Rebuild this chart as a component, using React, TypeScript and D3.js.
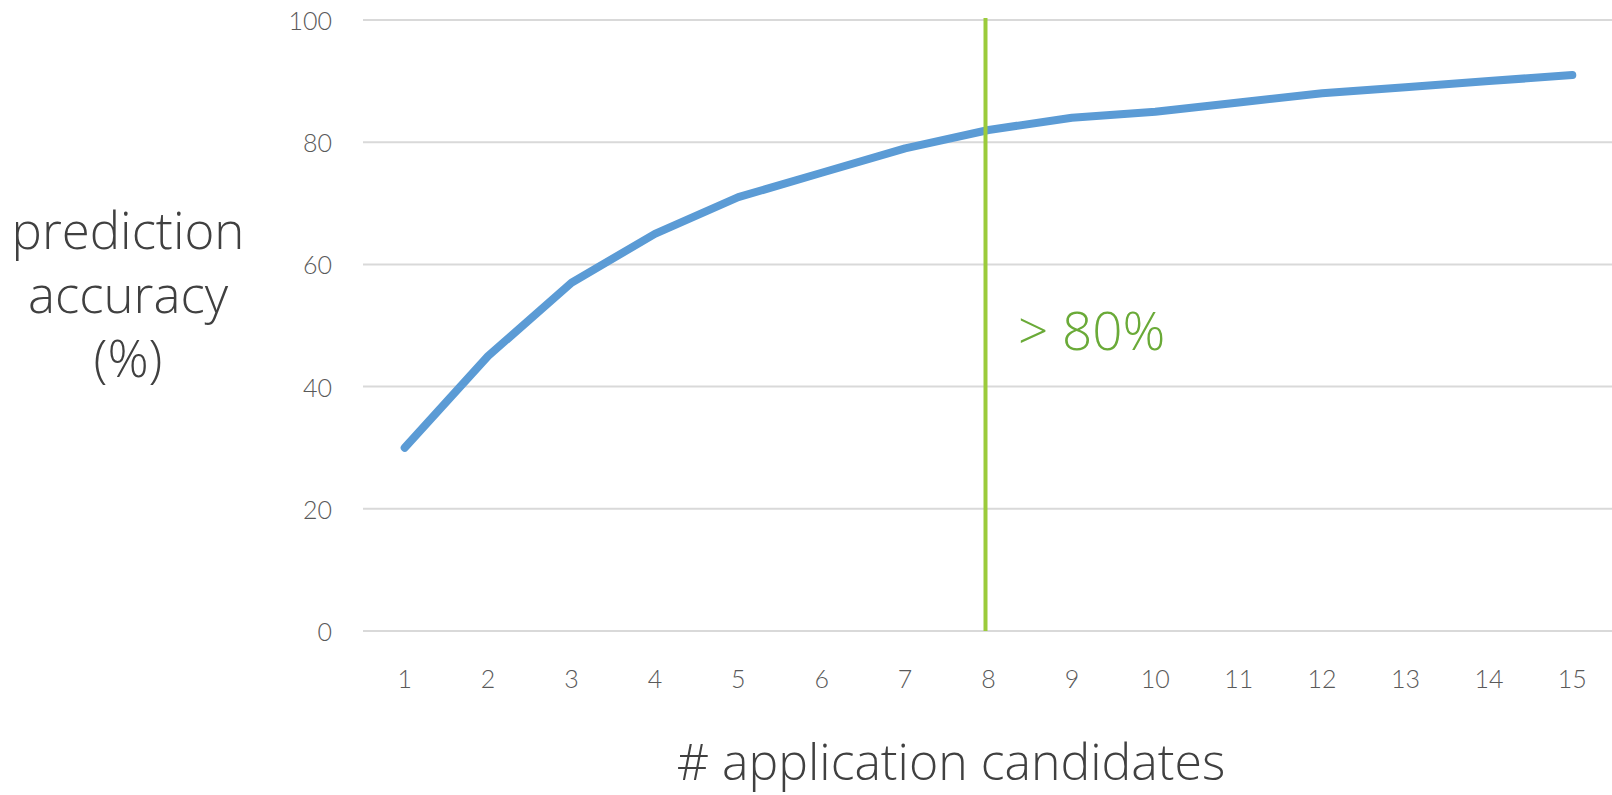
import React from "react";
import * as d3 from "d3";

// chart values
const candidates = ["1", "2", "3", "4", "5", "6", "7", "8", "9", "10", "11", "12", "13", "14", "15"];
const accuracy = [30, 45, 57, 65, 71, 75, 79, 82, 84, 85, 86.5, 88, 89, 90, 91];
const yTicks = [0, 20, 40, 60, 80, 100];
const markerCategory = "8";
const markerLabel = "> 80%";
const yLabelLines = ["prediction", "accuracy", "(%)"];
const xLabel = "# application candidates";

const W = 1612, H = 795;
const TICK_FONT = "Lato, 'Open Sans', sans-serif";
const LABEL_FONT = "'Open Sans', Lato, sans-serif";

export default function App() {
  // set the plot area
  const left = 363, right = 1614, top = 20, bottom = 631;

  const x = d3.scaleBand().domain(candidates).range([left, right]);
  const y = d3.scaleLinear().domain([0, 100]).range([bottom, top]);
  const cx = (c: string) => (x(c) as number) + x.bandwidth() / 2;

  const line = d3.line<number>()
    .x((_, i) => cx(candidates[i]))
    .y(d => y(d));

  const mx = cx(markerCategory) - 3;

  return (
    <svg width={W} height={H} style={{ position: "absolute", left: 0, top: 0, background: "#fff" }}>
      {/* gridlines */}
      {yTicks.map(t => (
        <line key={t} x1={left} x2={W} y1={y(t)} y2={y(t)} stroke="#d9d9d9" strokeWidth={2} />
      ))}
      {/* y tick labels */}
      {yTicks.map(t => (
        <text key={"yl" + t} x={332} y={y(t)} textAnchor="end" dominantBaseline="central"
          fill="#595959" fontSize={25} fontWeight={300} fontFamily={TICK_FONT}>
          {t}
        </text>
      ))}
      {/* x tick labels */}
      {candidates.map(c => (
        <text key={"xl" + c} x={cx(c)} y={678} textAnchor="middle" dominantBaseline="central"
          fill="#595959" fontSize={25} fontWeight={300} fontFamily={TICK_FONT}>
          {c}
        </text>
      ))}
      {/* data line */}
      <path d={line(accuracy) || ""} fill="none" stroke="#5b9bd5" strokeWidth={8}
        strokeLinecap="round" strokeLinejoin="round" />
      {/* marker line */}
      <line x1={mx} x2={mx} y1={18} y2={bottom} stroke="#9bcb3b" strokeWidth={4} />
      <text x={1018} y={329} dominantBaseline="central" fill="#6aaa38" fontSize={53} fontWeight={300}
        fontFamily={LABEL_FONT}>
        {markerLabel}
      </text>
      {/* y label */}
      {yLabelLines.map((s, i) => (
        <text key={s} x={128} y={229 + i * 64} textAnchor="middle" dominantBaseline="central"
          fill="#404040" fontSize={51} fontWeight={300} fontFamily={LABEL_FONT}>
          {s}
        </text>
      ))}
      {/* x label */}
      <text x={951} y={761} textAnchor="middle" dominantBaseline="central"
        fill="#404040" fontSize={50} fontWeight={300} fontFamily={LABEL_FONT}>
        {xLabel}
      </text>
    </svg>
  );
}
